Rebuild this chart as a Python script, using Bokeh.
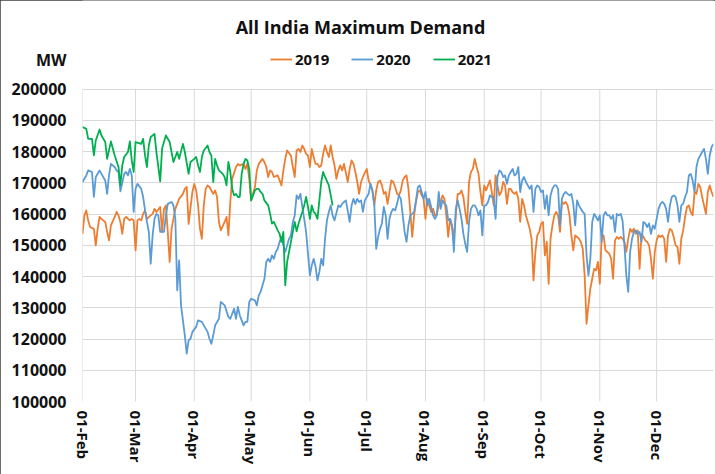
import pandas as pd
from bokeh.plotting import figure
from bokeh.models import (FixedTicker, NumeralTickFormatter, Legend, LegendItem,
                          Label, Range1d)
from bokeh.embed import file_html
from bokeh.resources import INLINE

# ---------------- data (day offsets from 01-Feb, values in MW) ----------------
BASE_DATE = "2019-02-01"
END_DAY = 333

days_2019 = [0,1,2,3,4,6,7,8,9,10,12,13,14,15,17,18,19,20,21,22,23,25,26,27,28,29,30,31,32,33,34,36,37,38,39,41,42,43,44,45,46,47,49,50,51,53,54,55,56,58,59,60,61,62,63,64,65,66,67,69,70,71,72,73,75,76,77,78,79,81,82,83,85,86,87,88,89,91,92,93,95,96,97,98,99,100,101,103,104,105,106,107,108,110,111,112,113,114,115,116,117,118,119,120,121,122,123,124,125,126,127,128,129,130,131,132,133,134,135,136,137,138,140,141,142,143,144,145,146,147,148,150,151,152,153,154,155,156,157,158,159,160,161,162,163,164,165,166,167,168,169,170,171,172,173,174,175,176,177,178,179,180,181,182,183,184,185,186,187,188,189,190,191,192,193,194,195,196,197,198,199,200,201,202,203,204,205,206,207,208,209,210,211,212,213,214,215,216,217,218,219,220,221,222,223,224,225,226,227,228,229,230,231,232,233,234,235,236,237,238,239,240,241,242,243,244,245,246,247,248,249,250,251,252,253,254,255,256,257,258,259,260,261,262,263,264,265,266,267,268,269,270,271,272,273,274,275,276,277,278,279,280,281,282,283,284,285,286,287,288,289,290,291,292,293,294,295,296,297,298,299,300,301,302,303,304,305,306,307,308,309,310,311,312,313,314,315,316,317,318,319,320,321,322,323,324,325,326,327,328,329,330,331,332,333]
mw_2019 = [153700,159600,161200,158000,155900,155300,150000,155300,159100,158500,157500,154300,151600,156400,159100,160700,159600,157500,153700,158500,159100,158000,158500,158000,148400,158000,158500,158000,160100,161200,158500,159600,160100,161700,160700,162300,154300,161700,162800,154300,144700,155300,161700,163300,164900,166500,168100,168700,156900,167100,169700,167600,162800,155300,152100,162800,168100,169200,168700,166500,167600,165500,157500,154800,157500,159100,153200,163900,171300,175100,176100,175600,176100,174500,176100,171300,164400,168700,174000,176100,177700,176700,175100,171900,174000,173500,171900,172400,170800,169200,174000,177700,180400,178800,175100,171900,180400,180900,179900,182000,180900,179300,178800,175100,180900,178300,176100,176100,175100,175600,179300,182000,179900,178300,182000,178300,175600,171300,174000,175600,174000,176100,170300,174500,177200,176100,173500,170300,166500,170300,171900,174500,170800,169200,167600,162800,167600,170300,170800,169200,166500,167100,163300,167100,170800,170300,168700,166500,166000,167600,170800,171900,172400,168100,160700,152700,159600,163900,167100,167600,166000,164900,158500,164900,162800,160700,161700,159600,160100,162800,163900,166000,164900,159600,152700,158500,155900,152700,159600,166500,166500,167600,165500,160700,156900,170300,173500,174500,177700,175100,172900,167100,162800,169200,167600,169200,170800,167100,162800,172400,169200,166000,167100,170300,169200,163300,168100,168100,167000,166500,167100,164900,157500,164900,162800,159600,157500,155300,152100,138800,147900,153200,154300,156900,157500,146800,151100,137700,152100,156400,159600,160700,159600,154300,163900,163300,163900,162800,159600,153200,148400,153200,152700,152100,151100,148900,140400,124900,130800,136100,139300,142500,142000,144700,137700,153200,153200,148400,147900,147300,145700,139300,151600,152700,152100,152700,152100,151100,147900,152100,155300,154300,155300,153700,154800,142500,153700,152700,151600,151100,150000,145700,139300,147900,151600,153200,152700,153200,152100,144700,153200,155300,154800,152700,150000,149500,144100,152100,154800,159100,162300,162800,160700,159600,167100,166500,169700,168700,165500,162800,160100,167100,169200,167100,165500]

days_2020 = [0,2,3,5,6,7,9,10,12,13,14,15,17,18,19,20,22,23,24,25,26,27,28,29,31,32,33,34,35,36,37,38,39,40,41,43,44,45,47,48,49,50,51,52,54,55,56,57,58,60,61,63,64,66,67,68,69,70,72,73,75,77,78,80,81,82,83,84,85,86,87,88,89,91,92,93,94,95,96,97,98,99,100,101,102,103,104,105,106,107,108,109,110,111,112,113,114,115,116,117,118,119,120,121,122,123,124,125,126,127,128,129,130,131,132,133,135,136,137,138,139,141,142,143,144,145,146,147,148,149,150,151,152,153,154,155,156,157,158,159,160,161,162,163,164,165,166,167,168,169,170,171,172,173,174,175,176,177,178,179,180,181,182,183,184,185,186,187,188,189,190,191,192,193,194,195,196,197,198,199,200,201,202,203,204,205,206,207,208,209,210,211,212,213,214,215,216,217,218,219,220,221,222,223,224,225,226,227,228,229,230,231,232,233,234,235,236,237,238,239,240,241,242,243,244,245,246,247,248,249,250,251,252,253,254,255,256,257,258,259,260,261,262,263,264,265,266,267,268,269,270,271,272,273,274,275,276,277,278,279,280,281,282,283,284,285,286,287,288,289,290,291,292,293,294,295,296,297,298,299,300,301,302,303,304,305,306,307,308,309,310,311,312,313,314,315,316,317,318,319,320,321,322,323,324,325,326,327,328,329,330,331,332,333]
mw_2020 = [170300,172400,174000,173500,165500,171900,174000,172900,170800,166500,172400,176100,175100,174000,173500,167300,172900,173500,172400,174500,172400,160700,168100,169700,168100,165500,161200,157500,154300,144100,153200,158500,160100,159600,154300,154300,159600,163300,163900,162800,158500,135600,145200,130800,121200,115300,119600,120100,122300,123900,126000,125500,124400,122300,120100,118500,121200,124400,126500,131900,130800,127100,126500,129700,126500,130300,127600,126000,124400,125500,125500,131900,132900,132400,130800,134000,135100,137200,139300,144700,145700,144700,146800,145700,147900,148900,151100,152700,150000,147900,150000,152100,153200,157500,159600,166000,164900,166500,162300,158500,154300,147300,140400,143600,145700,143100,138800,141500,145700,143600,152100,158000,160700,162800,159600,158000,162800,162300,163300,163900,164400,157500,162800,164900,163300,164900,163900,164400,160700,164400,165500,166500,169700,167600,162800,148900,152700,155300,157000,162300,159600,152100,158500,160700,161700,161200,163300,166000,164900,159600,154300,151100,156400,159600,160100,160700,164400,168700,169200,167100,164900,167100,162800,164900,162300,159600,158500,159600,167100,161700,164400,163300,162800,158000,158500,156400,147900,161700,164400,161700,158500,153700,150500,147900,157500,161700,162800,162800,161700,159600,161200,153200,162800,162800,163900,166000,165500,164900,158500,171900,174000,173500,171900,172400,169700,172400,173500,174500,172400,172900,175100,167100,170800,171900,170300,169200,168100,169200,160700,168100,169200,168700,167100,167600,161700,166000,159600,166000,168100,169200,169200,168100,156400,164900,166500,167100,166500,166000,166500,163300,156400,164400,162800,161700,160700,160100,146800,140400,145700,157500,160100,159100,158000,159600,151100,159600,160700,159600,159600,158500,159600,154300,160100,159600,160100,158000,150000,140400,135100,147900,152100,154300,154800,153700,154300,151100,157500,157000,155900,157000,153700,156400,155300,158500,161700,163300,163900,163300,161700,157500,162800,165500,166000,165500,162800,157500,162800,163300,165500,167100,172400,172900,170800,167100,175100,177700,178800,179900,180900,177700,172900,178800,181500,182500]

days_2021 = [0,2,3,5,6,7,9,10,12,13,15,16,17,19,20,21,22,24,25,26,27,28,31,32,33,34,35,36,38,39,41,42,44,46,48,50,51,53,54,56,57,59,60,61,62,63,64,66,67,68,69,70,71,72,74,75,76,77,78,79,80,81,82,83,84,85,86,87,88,89,90,91,92,93,94,95,96,98,99,100,101,103,104,105,106,107,108,109,110,111,112,113,114,116,117,118,119,120,121,122,123,124,125,126,127,128,130,131,132]
mw_2021 = [187900,187300,184100,184100,178800,183600,187100,185200,183100,177700,183300,181000,178800,175100,169200,175600,178300,179900,183300,177200,173500,183100,182500,184100,178800,175100,182000,184700,185700,179900,170500,181000,185200,183100,176700,179900,177700,182500,179900,172900,176700,177700,178300,175600,173500,178300,180400,182000,179900,178800,170300,177700,175600,174000,172900,171900,169200,176700,173500,168100,166000,166500,165500,165500,172900,176100,177700,177200,174500,164400,166000,167600,168100,168100,167100,166500,164400,162800,160100,157000,157500,154800,153700,151100,154300,137200,144700,147900,151100,154300,157500,154500,156900,160700,162800,165500,162300,158500,162800,160700,160100,158500,164400,170300,173500,171900,169200,166000,162800]

series_names = ["2019", "2020", "2021"]
series_colors = ["#ED7D31", "#5B9BD5", "#00B050"]
y_ticks = [100000, 110000, 120000, 130000, 140000, 150000, 160000, 170000, 180000, 190000, 200000]
tick_dates = pd.date_range("2019-02-01", "2019-12-01", freq="MS")
tick_pos = [int((d - pd.Timestamp(BASE_DATE)).days) for d in tick_dates]
tick_labels = [d.strftime("%d-%b") for d in tick_dates]

TITLE = "All India Maximum Demand"
Y_UNIT = "MW"
FONT = "Open Sans"
TEXT_COLOR = "#111111"
GRID_COLOR = "#d9d9d9"

# ---------------- layout ----------------
W, H = 715, 474
FRAME_LEFT, FRAME_RIGHT_PAD, FRAME_BOTTOM_PAD = 82, 2, 73
FRAME_H = H - FRAME_BOTTOM_PAD            # frame spans the full height above the x axis
PX_PER_100K = 312.25                      # pixel height of the 100000..200000 band
y_top = y_ticks[0] + (y_ticks[-1] - y_ticks[0]) * FRAME_H / PX_PER_100K
unit_tick = y_ticks[-1] + (y_ticks[-1] - y_ticks[0]) * 29.5 / PX_PER_100K   # "MW" row

p = figure(width=W, height=H, output_backend="svg", toolbar_location=None,
           x_range=Range1d(0, END_DAY), y_range=Range1d(y_ticks[0], y_top),
           min_border_left=FRAME_LEFT, min_border_right=FRAME_RIGHT_PAD,
           min_border_top=0, min_border_bottom=FRAME_BOTTOM_PAD)
p.title.visible = False
p.outline_line_color = None
p.background_fill_color = "white"
p.border_fill_color = "white"
p.styles = {"outline": "1.5px solid #3c3c3c", "outline-offset": "-1.5px"}

# grid: horizontal at value ticks, vertical at month starts (only inside the value band)
p.ygrid.ticker = FixedTicker(ticks=y_ticks)
p.ygrid.grid_line_color = GRID_COLOR
p.xgrid.visible = False
p.segment(x0=tick_pos, y0=[y_ticks[0]] * len(tick_pos), x1=tick_pos,
          y1=[y_ticks[-1]] * len(tick_pos), line_color=GRID_COLOR, line_width=1)

p.xaxis.ticker = FixedTicker(ticks=tick_pos)
p.xaxis.major_label_overrides = {t: l for t, l in zip(tick_pos, tick_labels)}
p.xaxis.major_label_orientation = "vertical"
p.yaxis.ticker = FixedTicker(ticks=y_ticks + [unit_tick])
p.yaxis.formatter = NumeralTickFormatter(format="0")
p.yaxis.major_label_overrides = {unit_tick: Y_UNIT}

for ax in (p.xaxis, p.yaxis):
    ax.axis_line_color = None
    ax.major_tick_line_color = None
    ax.minor_tick_line_color = None
    ax.major_tick_out = 0
    ax.major_tick_in = 0
    ax.major_label_text_font = FONT
    ax.major_label_text_font_style = "bold"
    ax.major_label_text_color = TEXT_COLOR
p.xaxis.major_label_text_font_size = "15px"
p.yaxis.major_label_text_font_size = "16px"
p.xaxis.major_label_standoff = 9
p.yaxis.major_label_standoff = 16

renderers = []
for days, vals, col in zip([days_2019, days_2020, days_2021],
                           [mw_2019, mw_2020, mw_2021], series_colors):
    r = p.line(days, vals, line_color=col, line_width=1.8, line_join="round")
    renderers.append(r)

legend = Legend(items=[LegendItem(label=n, renderers=[r]) for n, r in zip(series_names, renderers)],
                orientation="horizontal", location=(188, FRAME_H - 69), padding=0, margin=0,
                spacing=22, glyph_width=22, glyph_height=20, label_standoff=3,
                label_text_font=FONT, label_text_font_style="bold",
                label_text_font_size="15px", label_text_color=TEXT_COLOR,
                border_line_color=None, background_fill_alpha=0)
p.add_layout(legend)

p.add_layout(Label(x=278, y=FRAME_H - 26, x_units="screen", y_units="screen", text=TITLE,
                   text_align="center", text_baseline="middle", text_font=FONT,
                   text_font_style="bold", text_font_size="18px", text_color=TEXT_COLOR))

open("out.html", "w").write(file_html(p, INLINE))
